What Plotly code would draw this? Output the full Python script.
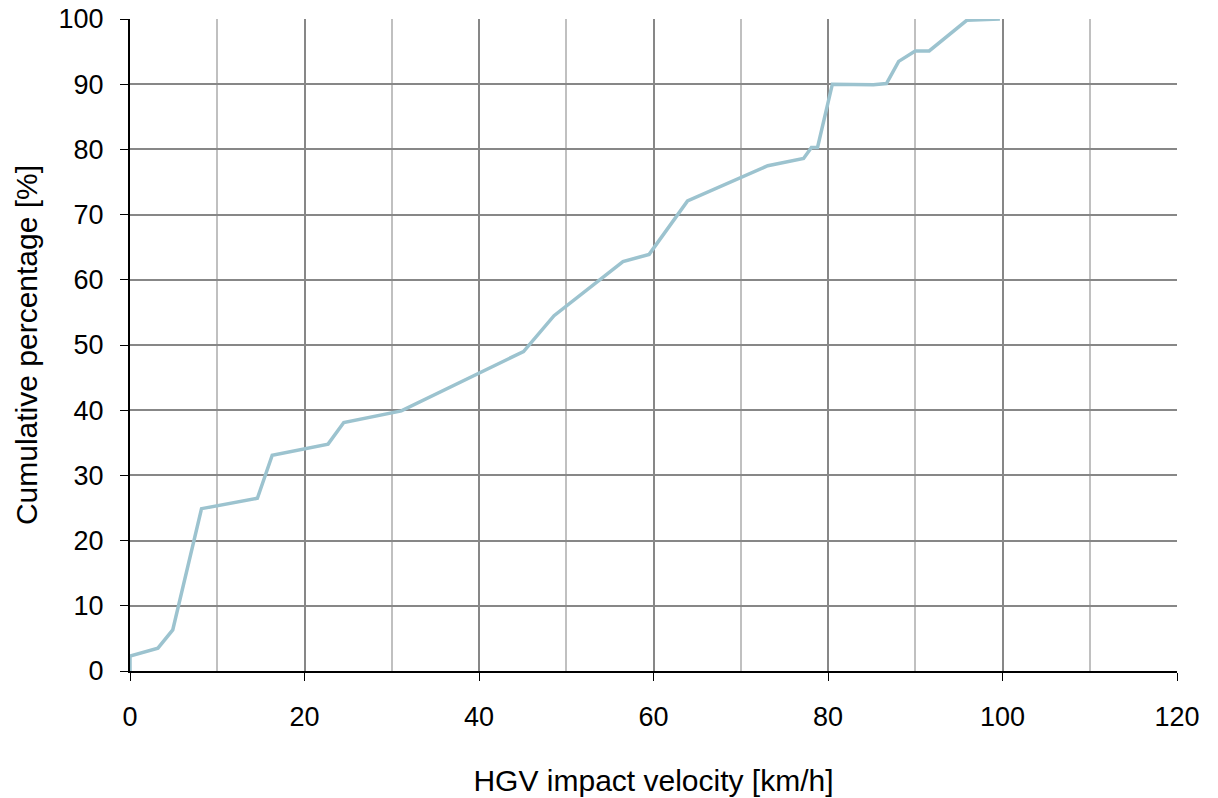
import plotly.graph_objects as go

velocity = [0, 0, 3.2, 4.9, 8.2, 14.6, 16.3, 22.7, 24.5, 31.1, 45.1, 48.6, 56.5, 59.5, 63.9,
            73.1, 77.2, 78.1, 78.8, 80.5, 85.2, 86.7, 88.1, 90.0, 91.6, 95.9, 99.7]
cumulative = [0, 2.3, 3.5, 6.3, 24.9, 26.5, 33.1, 34.8, 38.1, 39.9, 49.0, 54.5, 62.8, 63.9, 72.1,
              77.5, 78.6, 80.3, 80.3, 90.0, 89.9, 90.1, 93.5, 95.1, 95.1, 99.8, 100.0]

x_ticks = [0, 20, 40, 60, 80, 100, 120]
y_ticks = [0, 10, 20, 30, 40, 50, 60, 70, 80, 90, 100]

fig = go.Figure()
fig.add_trace(go.Scatter(x=velocity, y=cumulative, mode="lines",
                         line=dict(color="#9cc3cf", width=3.5), showlegend=False))

font = dict(family="Liberation Sans, Arial, sans-serif", size=27, color="#000000")

fig.update_layout(
    width=1218, height=798,
    margin=dict(l=130, r=41, t=19, b=127),
    paper_bgcolor="white", plot_bgcolor="white",
    font=font,
    xaxis=dict(range=[0, 120], tickvals=x_ticks, ticks="outside", ticklen=8,
               tickcolor="black", showline=True, linecolor="black", linewidth=2,
               showgrid=True, gridcolor="#878787", gridwidth=2, automargin=False,
               tickfont=dict(size=27), ticklabelstandoff=13,
               minor=dict(dtick=10, showgrid=True, gridcolor="#c0c0c0", gridwidth=2, ticks=""),
               title=dict(text="HGV impact velocity [km/h]", standoff=39, font=dict(size=30)),
               zeroline=False),
    yaxis=dict(range=[0, 100], tickvals=y_ticks, ticks="outside", ticklen=8,
               tickcolor="black", showline=True, linecolor="black", linewidth=2,
               showgrid=True, gridcolor="#878787", gridwidth=2, automargin="left",
               tickfont=dict(size=27), ticklabelstandoff=11,
               title=dict(text="Cumulative percentage [%]", standoff=12, font=dict(size=30)),
               zeroline=False),
)

fig.write_html("out.html", post_script="document.body.style.margin='0';",
               config={"displayModeBar": False})
